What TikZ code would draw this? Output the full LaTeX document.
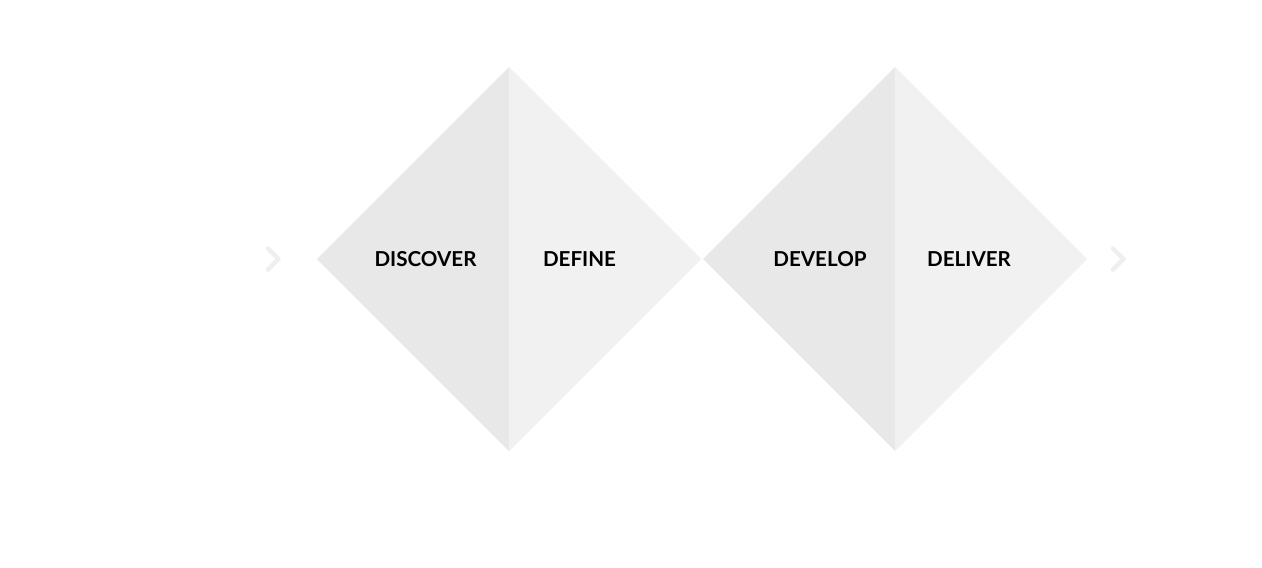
\documentclass[tikz,border=0pt]{standalone}
\usepackage{fontspec}
\setmainfont{Lato}[UprightFont=* Bold]
\definecolor{halfA}{HTML}{E8E8E8}
\definecolor{halfB}{HTML}{F1F1F1}
\definecolor{chev}{HTML}{EFEFEF}
\begin{document}
\begin{tikzpicture}[x=1pt,y=-1pt,
  lbl/.style={font=\fontsize{20.6}{24}\selectfont, text=black, inner sep=0pt, anchor=center},
  chevron/.style={draw=chev, line width=4.5pt, line cap=round, line join=round}]
\useasboundingbox[fill=white] (0,0) rectangle (1262,568);
% diamond 1
\fill[halfA] (317,259) -- (509,67) -- (509,451) -- cycle;
\fill[halfB] (509,67) -- (701,259) -- (509,451) -- cycle;
% diamond 2
\fill[halfA] (703,259) -- (895,67) -- (895,451) -- cycle;
\fill[halfB] (895,67) -- (1087,259) -- (895,451) -- cycle;
% labels
\node[lbl] (discover) at (425.5,259.5) {DISCOVER};
\node[lbl] (define) at (579.5,259.5) {DEFINE};
\node[lbl] (develop) at (820,259.5) {DEVELOP};
\node[lbl] (deliver) at (969,259.5) {DELIVER};
% chevrons
\draw[chevron] (268,248.5) -- (278.5,259) -- (268,269.5);
\draw[chevron] (1113,248.5) -- (1123.5,259) -- (1113,269.5);
\end{tikzpicture}
\end{document}
